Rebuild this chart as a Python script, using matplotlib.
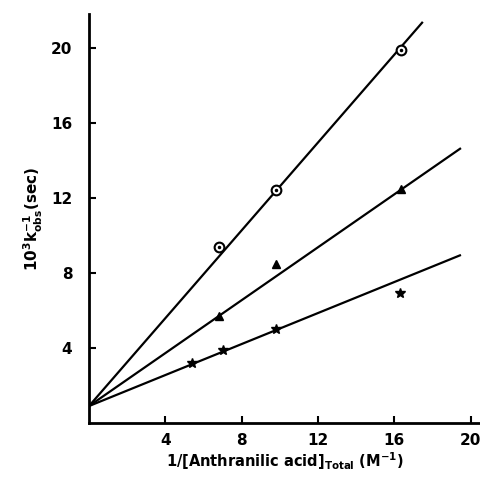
import matplotlib.pyplot as plt
import numpy as np

# data
circle_x = [6.8, 9.8, 16.35]
circle_y = [9.4, 12.4, 19.85]

triangle_x = [6.8, 9.8, 16.35]
triangle_y = [5.7, 8.45, 12.45]

star_x = [5.4, 7.0, 9.8, 16.3]
star_y = [3.2, 3.9, 5.0, 6.9]

intercept = 0.9
slopes = [1.17, 0.705, 0.413]
line_ends = [17.5, 19.5, 19.5]

xticks = [4, 8, 12, 16, 20]
yticks = [4, 8, 12, 16, 20]

fig = plt.figure(figsize=(4.81, 4.79), dpi=100)
ax = fig.add_axes([0.185, 0.117, 0.815, 0.854])

for slope, end in zip(slopes, line_ends):
    xs = np.array([0.0, end])
    ax.plot(xs, intercept + slope * xs, color="black", lw=1.6,
            solid_capstyle="butt", zorder=2)

ax.plot(circle_x, circle_y, "o", ms=7, mfc="white", mec="black",
        mew=1.5, zorder=3)
ax.plot(circle_x, circle_y, ".", ms=3, color="black", zorder=4)
ax.plot(triangle_x, triangle_y, "^", ms=6, color="black", zorder=3)
ax.plot(star_x, star_y, "*", ms=7, color="black", zorder=3)

ax.set_xlim(0, 20.55)
ax.set_ylim(0, 21.8)
ax.set_xticks(xticks)
ax.set_yticks(yticks)

for side in ["top", "right"]:
    ax.spines[side].set_visible(False)
for side in ["left", "bottom"]:
    ax.spines[side].set_linewidth(2)

ax.tick_params(direction="in", length=5, width=1.5, labelsize=11)
ax.tick_params(axis="x", pad=7)
ax.tick_params(axis="y", pad=12)
for lab in ax.get_xticklabels() + ax.get_yticklabels():
    lab.set_fontweight("bold")

ax.set_xlabel(r"$\mathbf{1/[Anthranilic\ acid]_{Total}\ (M^{-1})}$",
              fontsize=10.5, labelpad=2)
ax.set_ylabel(r"$\mathbf{10^{3}k_{obs}^{-1}(sec)}$", fontsize=11,
              labelpad=4)

fig.savefig("out.png", dpi=100)
plt.close(fig)
